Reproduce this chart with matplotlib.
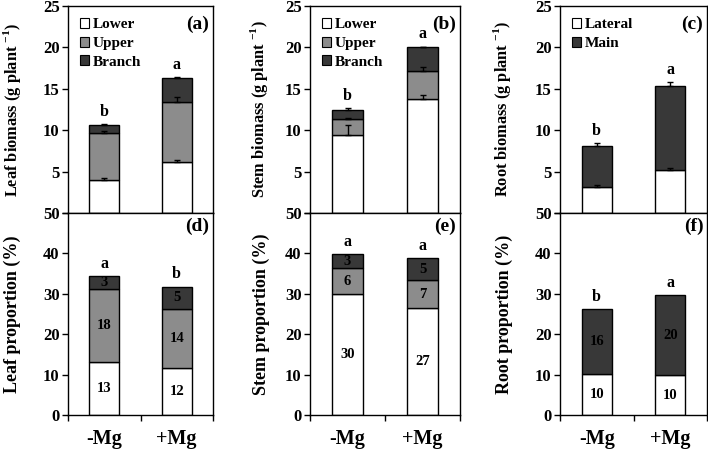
import matplotlib
matplotlib.use('Agg')
import matplotlib.pyplot as plt
from matplotlib.patches import Patch

plt.rcParams['font.family'] = ['Liberation Serif', 'DejaVu Serif']
plt.rcParams['font.weight'] = 'bold'
plt.rcParams['mathtext.fontset'] = 'custom'
plt.rcParams['mathtext.rm'] = 'Liberation Serif:bold'

groups = ['-Mg', '+Mg']

# biomass (g plant-1), stacked segments and their SE
leaf_lower = [4.0, 6.1]
leaf_upper = [5.65, 7.3]
leaf_branch = [0.95, 2.9]
leaf_lower_err = [0.2, 0.35]
leaf_upper_err = [0.25, 0.65]
leaf_branch_err = [0.15, 0.15]

stem_lower = [9.4, 13.8]
stem_upper = [2.0, 3.4]
stem_branch = [1.1, 2.8]
stem_lower_err = [1.2, 0.4]
stem_upper_err = [0.1, 0.4]
stem_branch_err = [0.15, 0.1]

root_lateral = [3.2, 5.2]
root_main = [4.95, 10.1]
root_lateral_err = [0.2, 0.25]
root_main_err = [0.3, 0.5]

leaf_letters = ['b', 'a']
stem_letters = ['b', 'a']
root_letters = ['b', 'a']

# proportion (%)
leafp_lower = [13.0, 11.7]
leafp_upper = [18.1, 14.5]
leafp_branch = [3.2, 5.6]
leafp_labels = [['13', '18', '3'], ['12', '14', '5']]

stemp_lower = [30.0, 26.6]
stemp_upper = [6.3, 6.7]
stemp_branch = [3.6, 5.6]
stemp_labels = [['30', '6', '3'], ['27', '7', '5']]

rootp_lateral = [10.1, 9.85]
rootp_main = [16.1, 19.85]
rootp_labels = [['10', '16'], ['10', '20']]

leafp_letters = ['a', 'b']
stemp_letters = ['a', 'a']
rootp_letters = ['b', 'a']

colors3 = ['white', '#8c8c8c', '#383838']
colors2 = ['white', '#383838']

fig = plt.figure(figsize=(7.08, 4.5), dpi=100)
W, H = 708, 450
lefts = [68, 310, 560]
widths = [145, 150, 147]
label_right_top = [23, 270, 513]  # right edge of y label column (px)
label_right_bot = [21, 270, 513]
top_y, mid_y, bot_y = 6, 213, 415

axes_top = []
axes_bot = []
for l, w in zip(lefts, widths):
    axes_top.append(fig.add_axes([l / W, 1 - mid_y / H, w / W, (mid_y - top_y) / H]))
    axes_bot.append(fig.add_axes([l / W, 1 - bot_y / H, w / W, (bot_y - mid_y) / H]))

x = [0.5, 1.5]
bw = 0.41


def stacked(ax, segs, colors, errs=None, letters=None, labels=None):
    bottom = [0, 0]
    for i, seg in enumerate(segs):
        ax.bar(x, seg, bw, bottom=bottom, color=colors[i], edgecolor='black', linewidth=1, zorder=2)
        top = [b + s for b, s in zip(bottom, seg)]
        if errs is not None:
            ax.errorbar(x, top, yerr=[[0, 0], errs[i]], fmt='none', ecolor='black',
                        elinewidth=1, capsize=2.5, capthick=1, zorder=3)
        if labels is not None:
            for j in range(2):
                ax.text(x[j], bottom[j] + seg[j] / 2, labels[j][i], ha='center', va='center',
                        fontsize=10.5, fontweight='bold', zorder=4)
        bottom = top
    if letters is not None:
        for j in range(2):
            y = bottom[j] + (errs[-1][j] if errs is not None else 0)
            ax.annotate(letters[j], (x[j], y), xytext=(0, 3), textcoords='offset points',
                        ha='center', va='bottom', fontsize=11.5, fontweight='bold')


stacked(axes_top[0], [leaf_lower, leaf_upper, leaf_branch], colors3,
        [leaf_lower_err, leaf_upper_err, leaf_branch_err], leaf_letters)
stacked(axes_top[1], [stem_lower, stem_upper, stem_branch], colors3,
        [stem_lower_err, stem_upper_err, stem_branch_err], stem_letters)
stacked(axes_top[2], [root_lateral, root_main], colors2,
        [root_lateral_err, root_main_err], root_letters)

stacked(axes_bot[0], [leafp_lower, leafp_upper, leafp_branch], colors3,
        letters=leafp_letters, labels=leafp_labels)
stacked(axes_bot[1], [stemp_lower, stemp_upper, stemp_branch], colors3,
        letters=stemp_letters, labels=stemp_labels)
stacked(axes_bot[2], [rootp_lateral, rootp_main], colors2,
        letters=rootp_letters, labels=rootp_labels)

top_labels = ['Leaf biomass (g plant $^{-1}$)', 'Stem biomass (g plant $^{-1}$)',
              'Root biomass (g plant $^{-1}$)']
bot_labels = ['Leaf proportion (%)', 'Stem proportion (%)', 'Root proportion (%)']
panel_top = ['(a)', '(b)', '(c)']
panel_bot = ['(d)', '(e)', '(f)']

for k in range(3):
    ax = axes_top[k]
    ax.set_xlim(0, 2)
    ax.set_ylim(0, 25)
    ax.set_yticks([0, 5, 10, 15, 20, 25])
    ax.set_yticklabels(['', '5', '10', '15', '20', '25'])
    ax.set_xticks([])
    ax.set_ylabel(top_labels[k], fontsize=11.8, fontweight='bold')
    ax.yaxis.set_label_coords(-(lefts[k] - label_right_top[k]) / widths[k], 0.5)
    ax.text(0.975, 0.955, panel_top[k], transform=ax.transAxes, ha='right', va='top',
            fontsize=14, fontweight='bold')

    ax2 = axes_bot[k]
    ax2.set_xlim(0, 2)
    ax2.set_ylim(0, 50)
    ax2.set_yticks([0, 10, 20, 30, 40, 50])
    ax2.set_xticks([0, 1, 2])
    ax2.set_xticklabels([])
    ax2.set_xticks(x, minor=True)
    ax2.set_xticklabels(groups, minor=True, fontsize=14.5, fontweight='bold')
    ax2.tick_params(axis='x', which='minor', length=0, pad=10)
    ax2.set_ylabel(bot_labels[k], fontsize=13, fontweight='bold')
    ax2.yaxis.set_label_coords(-(lefts[k] - label_right_bot[k]) / widths[k], 0.5)
    ax2.text(0.975, 0.975, panel_bot[k], transform=ax2.transAxes, ha='right', va='top',
             fontsize=14, fontweight='bold')

    for a in (ax, ax2):
        a.tick_params(axis='y', direction='out', length=4, width=1, labelsize=12, pad=2)
        a.tick_params(axis='x', which='major', direction='out', length=4, width=1)
        for s in a.spines.values():
            s.set_linewidth(1)
        for t in a.get_yticklabels():
            t.set_fontweight('bold')

leg3 = [Patch(facecolor=c, edgecolor='black', linewidth=0.8) for c in colors3]
leg2 = [Patch(facecolor=c, edgecolor='black', linewidth=0.8) for c in colors2]
for k, (h, names) in enumerate([(leg3, ['Lower', 'Upper', 'Branch']),
                                (leg3, ['Lower', 'Upper', 'Branch']),
                                (leg2, ['Lateral', 'Main'])]):
    axes_top[k].legend(h, names, loc='upper left', frameon=False,
                       handlelength=0.6, handleheight=0.6, handletextpad=0.2,
                       labelspacing=0.35, borderaxespad=0.4, borderpad=0.4,
                       prop={'weight': 'bold', 'size': 11})

fig.savefig('out.png', dpi=100)
